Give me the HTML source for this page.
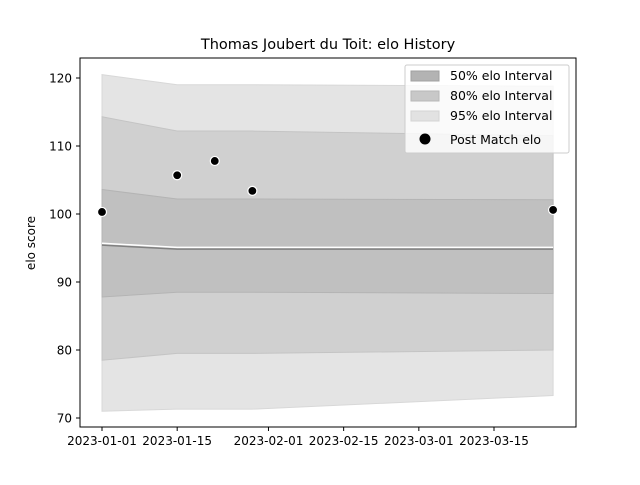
<!DOCTYPE html>
<html><head><meta charset="utf-8"><style>
body{margin:0;background:#fff;font-family:"Liberation Sans","DejaVu Sans",sans-serif}
</style></head><body>
<svg id="c" width="640" height="480" xmlns="http://www.w3.org/2000/svg" font-family="DejaVu Sans, Liberation Sans, sans-serif">
<rect width="640" height="480" fill="#fff"/>
<text x="328" y="49" font-size="14.5" text-anchor="middle">Thomas Joubert du Toit: elo History</text>
<text transform="translate(35,243) rotate(-90)" font-size="12" text-anchor="middle">elo score</text>
<g id="plot"></g>
<rect x="80" y="58" width="496" height="369" fill="none" stroke="#000" stroke-width="1"/>
<g id="axes"></g>
<g>
<rect x="405" y="65" width="164" height="88" fill="#fff" fill-opacity="0.8" stroke="#ccc" rx="2"/>
<g><rect x="411" y="71" width="28" height="10" fill="#b3b3b3" stroke="#a0a0a0"/><text x="450" y="80" font-size="12.5">50% elo Interval</text></g>
<g><rect x="411" y="91" width="28" height="10" fill="#c8c8c8" stroke="#b8b8b8"/><text x="450" y="100" font-size="12.5">80% elo Interval</text></g>
<g><rect x="411" y="111" width="28" height="10" fill="#e2e2e2" stroke="#d4d4d4"/><text x="450" y="120" font-size="12.5">95% elo Interval</text></g>
<g><circle cx="425" cy="139" r="5.5" fill="#000"/><text x="450" y="144" font-size="12.5">Post Match elo</text></g>
</g>
</svg>
<script>
const dates=["2023-01-01","2023-01-15","2023-01-22","2023-01-29","2023-03-26"];
const meanElo=[95.5,94.9,94.9,94.9,94.9];
const up50=[103.6,102.2,102.2,102.2,102.1];
const lo50=[87.8,88.5,88.5,88.5,88.3];
const up80=[114.3,112.2,112.2,112.2,111.5];
const lo80=[78.5,79.5,79.5,79.5,80.0];
const up95=[120.5,119.0,119.0,119.0,118.8];
const lo95=[71.0,71.3,71.3,71.3,73.3];
const matchElo=[100.3,105.7,107.8,103.4,100.6];
const yTicks=[70,80,90,100,110,120];
const xTicks=["2023-01-01","2023-01-15","2023-02-01","2023-02-15","2023-03-01","2023-03-15"];
const NS="http://www.w3.org/2000/svg";
const d0=Date.parse("2023-01-01");
function X(d){return 102+(Date.parse(d)-d0)/86400000*5.37;}
function Y(v){return 214-(v-100)*6.8;}
const plot=document.getElementById('plot'),axes=document.getElementById('axes');
function mk(tag,attrs,parent){const e=document.createElementNS(NS,tag);for(const k in attrs)e.setAttribute(k,attrs[k]);parent.appendChild(e);return e;}
function band(up,lo,fill,stroke,name){
 let p=dates.map((d,i)=>X(d)+","+Y(up[i]));
 for(let i=dates.length-1;i>=0;i--)p.push(X(dates[i])+","+Y(lo[i]));
 const e=mk('polygon',{points:p.join(" "),fill:fill,stroke:stroke,'stroke-width':1},plot);
 
 
}
band(up95,lo95,"#e4e4e4","#d8d8d8","band-95");
band(up80,lo80,"#d0d0d0","#c4c4c4","band-80");
band(up50,lo50,"#c0c0c0","#b4b4b4","band-50");
const mw=mk('polyline',{points:dates.map((d,i)=>X(d)+","+(Y(meanElo[i])-1.3)).join(" "),fill:"none",stroke:"#fff",'stroke-width':1.5},plot);


const ml=mk('polyline',{points:dates.map((d,i)=>X(d)+","+(Y(meanElo[i])+0.5)).join(" "),fill:"none",stroke:"#808080",'stroke-width':1.5},plot);


dates.forEach((d,i)=>{const c=mk('circle',{cx:X(d),cy:Y(matchElo[i]),r:4.5,fill:"#000",stroke:"#fff",'stroke-width':1.2},plot);
 
 });
yTicks.forEach(v=>{const y=Y(v);
 const l=mk('line',{x1:76,x2:80,y1:y,y2:y,stroke:"#000"},axes);
 
 
 const t=mk('text',{x:72,y:y+4.5,'font-size':12,'text-anchor':'end'},axes);t.textContent=v;
 
 });
xTicks.forEach(d=>{const x=X(d);
 const l=mk('line',{x1:x,x2:x,y1:427,y2:431,stroke:"#000"},axes);
 
 
 const t=mk('text',{x:x,y:445,'font-size':12,'text-anchor':'middle'},axes);t.textContent=d;
 
 });
</script>
</body></html>
